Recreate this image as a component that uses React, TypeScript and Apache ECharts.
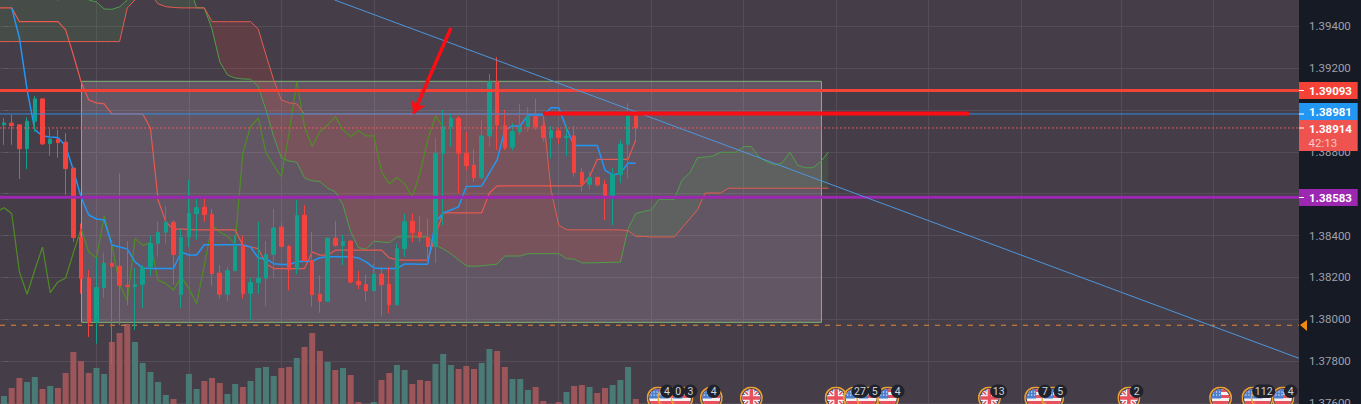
import React, { useEffect, useRef } from "react";
import * as echarts from "echarts";

// open, close, low, high per candle
const candles: number[][] = [
[1.38929,1.38938,1.38833,1.38962],[1.38937,1.38925,1.38833,1.38976],[1.38929,1.38815,1.38670,1.38931],[1.38815,1.38946,1.38718,1.38965],
[1.38946,1.39053,1.38896,1.39067],[1.39053,1.38838,1.38833,1.39056],[1.38839,1.38860,1.38780,1.38909],[1.38860,1.38844,1.38772,1.38905],
[1.38846,1.38720,1.38594,1.38889],[1.38722,1.38390,1.38369,1.38724],[1.38392,1.38194,1.38122,1.38457],[1.38197,1.37984,1.37915,1.38234],
[1.37987,1.38151,1.37883,1.38294],[1.38151,1.38267,1.38102,1.38317],[1.38267,1.38253,1.37787,1.38379],[1.38253,1.38162,1.37972,1.38698],
[1.38162,1.38156,1.38067,1.38373],[1.38156,1.38165,1.37949,1.38245],[1.38167,1.38245,1.38054,1.38258],[1.38250,1.38361,1.38207,1.38401],
[1.38363,1.38414,1.38298,1.38468],[1.38416,1.38463,1.38361,1.38541],[1.38463,1.38309,1.38165,1.38473],[1.38119,1.38390,1.38054,1.38430],
[1.38393,1.38505,1.38345,1.38666],[1.38505,1.38533,1.38380,1.38586],[1.38535,1.38500,1.38465,1.38586],[1.38502,1.38218,1.38159,1.38528],
[1.38220,1.38119,1.38098,1.38258],[1.38119,1.38232,1.38086,1.38250],[1.38232,1.38349,1.38230,1.38401],[1.38350,1.38122,1.38098,1.38401],
[1.38124,1.38175,1.37998,1.38197],[1.38175,1.38194,1.38122,1.38465],[1.38196,1.38310,1.38063,1.38373],[1.38310,1.38436,1.38194,1.38526],
[1.38440,1.38347,1.38344,1.38461],[1.38347,1.38237,1.38138,1.38355],[1.38239,1.38495,1.38216,1.38570],[1.38497,1.38280,1.38277,1.38545],
[1.38280,1.38117,1.38059,1.38417],[1.38119,1.38086,1.38031,1.38210],[1.38086,1.38387,1.38084,1.38390],[1.38387,1.38353,1.38345,1.38470],
[1.38353,1.38371,1.38258,1.38401],[1.38373,1.38178,1.38170,1.38376],[1.38181,1.38165,1.38143,1.38231],[1.38165,1.38136,1.38086,1.38213],
[1.38136,1.38215,1.38134,1.38265],[1.38215,1.38165,1.38015,1.38250],[1.38167,1.38069,1.38028,1.38250],[1.38069,1.38337,1.38067,1.38361],
[1.38337,1.38466,1.38298,1.38505],[1.38468,1.38414,1.38369,1.38505],[1.38416,1.38392,1.38369,1.38493],[1.38390,1.38347,1.38282,1.38481],
[1.38347,1.38793,1.38269,1.38865],[1.38793,1.38920,1.38450,1.39000],[1.38920,1.38960,1.38825,1.38984],[1.38960,1.38793,1.38602,1.38971],
[1.38793,1.38734,1.38713,1.38896],[1.38736,1.38677,1.38657,1.38814],[1.38677,1.38876,1.38666,1.38952],[1.38876,1.39135,1.38825,1.39172],
[1.39135,1.38928,1.38809,1.39252],[1.38925,1.38819,1.38809,1.39000],[1.38822,1.38896,1.38806,1.38937],[1.38896,1.38920,1.38881,1.39029],
[1.38920,1.38968,1.38896,1.39013],[1.38968,1.38920,1.38905,1.39053],[1.38924,1.38868,1.38849,1.38976],[1.38868,1.38901,1.38769,1.38924],
[1.38901,1.38868,1.38838,1.38913],[1.38868,1.38874,1.38780,1.38920],[1.38876,1.38700,1.38681,1.38924],[1.38702,1.38645,1.38610,1.38722],
[1.38645,1.38677,1.38621,1.38705],[1.38678,1.38642,1.38634,1.38681],[1.38645,1.38583,1.38474,1.38666],[1.38583,1.38691,1.38450,1.38723],
[1.38691,1.38836,1.38650,1.38857],[1.38836,1.38971,1.38674,1.39032],[1.38971,1.38914,1.38857,1.38976],
];

const volumes = [8,16,26,22,27,15,18,16,31,52,43,31,36,30,62,71,80,62,41,32,22,9,5,0,30,15,23,26,21,10,20,17,23,36,37,28,36,37,46,57,71,53,42,34,36,29,2,0,2,24,31,39,34,20,24,23,40,50,39,35,38,35,41,55,53,37,25,25,14,17,3,0,2,12,18,19,17,11,16,19,24,37,5];

// first value of this line belongs to bar 1
const tenkan = [
1.39488,1.39344,1.39096,1.38905,1.38876,1.38871,1.38869,1.38828,1.38713,
1.38584,1.38498,1.38479,1.38474,1.38355,1.38345,1.38336,1.38274,1.38245,1.38242,
1.38242,1.38242,1.38242,1.38321,1.38307,1.38307,1.38356,1.38356,1.38356,1.38356,
1.38356,1.38356,1.38345,1.38293,1.38289,1.38265,1.38261,1.38261,1.38274,1.38277,
1.38277,1.38294,1.38298,1.38298,1.38298,1.38298,1.38293,1.38274,1.38245,1.38242,
1.38242,1.38242,1.38264,1.38264,1.38263,1.38263,1.38465,1.38508,1.38522,1.38537,
1.38634,1.38635,1.38637,1.38699,1.38761,1.38905,1.38924,1.38924,1.38976,1.38976,
1.38976,1.39011,1.39011,1.38914,1.38830,1.38830,1.38830,1.38830,1.38713,1.38689,
1.38698,1.38745,1.38745];

// the first value of these four lines lies one bar before the first candle
const kijun = [1.39488,
1.39488,1.39488,1.39422,1.39422,1.39422,1.39422,1.39422,1.39422,1.39383,1.39263,
1.39135,1.39048,1.39034,1.39029,1.38981,1.38981,1.38981,1.38981,1.38981,1.38914,
1.38570,1.38465,1.38430,1.38430,1.38429,1.38427,1.38427,1.38427,1.38427,1.38427,
1.38427,1.38353,1.38345,1.38337,1.38265,1.38242,1.38242,1.38242,1.38242,1.38242,
1.38321,1.38306,1.38306,1.38330,1.38330,1.38330,1.38330,1.38330,1.38330,1.38330,
1.38293,1.38285,1.38282,1.38282,1.38282,1.38282,1.38403,1.38508,1.38508,1.38508,
1.38508,1.38508,1.38508,1.38603,1.38637,1.38637,1.38637,1.38637,1.38637,1.38637,
1.38637,1.38637,1.38637,1.38637,1.38637,1.38637,1.38681,1.38764,1.38764,1.38764,
1.38764,1.38764,1.38857];

const senkouA = [1.39540,
1.39540,1.39540,1.39540,1.39540,1.39540,1.39540,1.39540,1.39526,1.39536,1.39574,
1.39564,1.39526,1.39516,1.39483,1.39481,1.39493,1.39526,1.39574,1.39598,1.39598,
1.39598,1.39598,1.39598,1.39598,1.39598,1.39488,1.39488,1.39387,1.39231,1.39167,
1.39153,1.39148,1.39147,1.39112,1.39000,1.38873,1.38771,1.38756,1.38750,1.38675,
1.38661,1.38658,1.38626,1.38608,1.38546,1.38417,1.38342,1.38334,1.38373,1.38369,
1.38366,1.38393,1.38393,1.38393,1.38393,1.38393,1.38353,1.38336,1.38313,1.38283,
1.38255,1.38253,1.38255,1.38259,1.38263,1.38302,1.38302,1.38302,1.38313,1.38313,
1.38313,1.38313,1.38313,1.38289,1.38287,1.38269,1.38269,1.38270,1.38271,1.38272,
1.38272,1.38433,1.38505,1.38515,1.38522,1.38573,1.38573,1.38573,1.38666,1.38699,
1.38772,1.38775,1.38780,1.38798,1.38798,1.38798,1.38825,1.38825,1.38775,1.38753,
1.38737,1.38747,1.38798,1.38737,1.38724,1.38724,1.38753,1.38798];

const senkouB = [1.39327,
1.39327,1.39327,1.39327,1.39327,1.39327,1.39327,1.39327,1.39327,1.39327,1.39327,
1.39327,1.39327,1.39327,1.39327,1.39327,1.39327,1.39488,1.39526,1.39555,1.39555,
1.39507,1.39494,1.39490,1.39488,1.39488,1.39488,1.39488,1.39422,1.39422,1.39422,
1.39422,1.39422,1.39422,1.39387,1.39263,1.39144,1.39048,1.39034,1.39029,1.38981,
1.38981,1.38981,1.38981,1.38981,1.38981,1.38981,1.38981,1.38981,1.38981,1.38981,
1.38981,1.38981,1.38981,1.38981,1.38981,1.38981,1.38981,1.38981,1.38981,1.38981,
1.38981,1.38981,1.38981,1.38981,1.38981,1.38981,1.38981,1.38981,1.38981,1.38981,
1.38976,1.38618,1.38450,1.38428,1.38427,1.38427,1.38427,1.38427,1.38427,1.38427,
1.38427,1.38423,1.38396,1.38396,1.38393,1.38393,1.38393,1.38393,1.38436,1.38479,
1.38522,1.38603,1.38603,1.38603,1.38626,1.38626,1.38626,1.38626,1.38626,1.38626,
1.38626,1.38626,1.38626,1.38626,1.38626,1.38626,1.38626,1.38626];

const chikou = [1.38512,
1.38533,1.38505,1.38226,1.38119,1.38235,1.38345,1.38127,1.38178,1.38197,1.38317,
1.38433,1.38321,1.38293,1.38493,1.38355,1.38164,1.38092,1.38385,1.38353,1.38366,
1.38186,1.38170,1.38138,1.38202,1.38146,1.38074,1.38259,1.38449,1.38417,1.38396,
1.38361,1.38795,1.38920,1.38962,1.38795,1.38737,1.38681,1.38890,1.39135,1.38920,
1.38825,1.38896,1.38928,1.38968,1.38905,1.38873,1.38901,1.38876,1.38876,1.38705,
1.38647,1.38677,1.38647,1.38586,1.38699,1.38857,1.38971,1.38920];

const yTickMin = 1.374;
const yTickMax = 1.396;
const yTickStep = 0.002;
const verticalGridBars = [12, 24, 36, 48, 60, 72, 84, 96, 108, 120, 132, 145, 157];
const xMin = -0.52;
const xMax = 168.08;

const resistance = 1.39093;
const lastSwing = 1.38981;
const lastPrice = 1.38914;
const support = 1.38583;
const rangeLow = 1.37971;
const boxCorners = [10.06, 1.39137, 106.1, 1.37985];
const trendLine = [[42.9, 1.39526], [168.08, 1.37813]];
const arrowLine = [[58.01, 1.39392], [53.15, 1.38983]];
const drawnLevel = [[69.95, 1.38983], [125.24, 1.38983]];

const usEvents = [84.9, 86.3, 88.0, 91.8, 110.4, 112.1, 114.7, 133.9, 136.1, 157.9, 162.1, 163.3, 166.0];
const ukEvents = [97, 108, 127.9, 146];
const eventCounts: [number, string][] = [
  [86.05, "4"], [87.5, "0"], [89.1, "3"], [92.1, "4"], [111.1, "27"], [113.0, "5"], [116.0, "4"],
  [129.1, "13"], [135.1, "7"], [137.1, "5"], [147.0, "2"], [163.5, "112"], [167.0, "4"],
];

const priceTags = [
  { lines: ["1.39093"], y: 82, h: 17, bg: "#f44336", tick: 90.5 },
  { lines: ["1.38981"], y: 103, h: 17, bg: "#2196f3", tick: 114 },
  { lines: ["1.38914", "42:13"], y: 120, h: 31, bg: "#ef5350", tick: 128 },
  { lines: ["1.38583"], y: 189, h: 17, bg: "#9c27b0", tick: 197.5 },
];

const UP = "#12a08c";
const DOWN = "#f4433f";
const FONT = "Roboto, sans-serif";

const svgUri = (s: string) => "data:image/svg+xml;charset=utf-8," + encodeURIComponent(s);
const usFlag = svgUri(`<svg xmlns="http://www.w3.org/2000/svg" width="46" height="46" viewBox="0 0 46 46"><defs><clipPath id="c"><circle cx="23" cy="23" r="18"/></clipPath></defs><circle cx="23" cy="23" r="21.5" fill="none" stroke="#eda232" stroke-width="3"/><g clip-path="url(#c)"><rect width="46" height="46" fill="#f6f2f2"/><rect y="5" width="46" height="6" fill="#e8505b"/><rect y="17" width="46" height="6" fill="#e8505b"/><rect y="29" width="46" height="6" fill="#e8505b"/><rect y="41" width="46" height="6" fill="#e8505b"/><rect width="24" height="24" fill="#4a7fd0"/><g fill="#dfe8f7"><circle cx="9" cy="11" r="1.4"/><circle cx="15" cy="11" r="1.4"/><circle cx="21" cy="11" r="1.4"/><circle cx="9" cy="17" r="1.4"/><circle cx="15" cy="17" r="1.4"/><circle cx="21" cy="17" r="1.4"/></g></g></svg>`);
const ukFlag = svgUri(`<svg xmlns="http://www.w3.org/2000/svg" width="46" height="46" viewBox="0 0 46 46"><defs><clipPath id="c"><circle cx="23" cy="23" r="18"/></clipPath></defs><circle cx="23" cy="23" r="21.5" fill="none" stroke="#eda232" stroke-width="3"/><g clip-path="url(#c)"><rect width="46" height="46" fill="#5a77c4"/><path d="M0 0L46 46M46 0L0 46" stroke="#f6f2f2" stroke-width="8"/><path d="M0 0L46 46M46 0L0 46" stroke="#e8505b" stroke-width="3"/><path d="M23 0V46M0 23H46" stroke="#f6f2f2" stroke-width="12"/><path d="M23 0V46M0 23H46" stroke="#e8505b" stroke-width="7"/></g></svg>`);

const hline = (value: number, color: string, width: number, z: number, type: any = "solid") => ({
  type: "line",
  xAxisIndex: 0,
  yAxisIndex: 0,
  data: [[xMin, value], [xMax, value]],
  symbol: "none",
  silent: true,
  z,
  lineStyle: { color, width, type },
});

const indicator = (values: number[], start: number, color: string, width: number, z: number) => ({
  type: "line",
  xAxisIndex: 0,
  yAxisIndex: 0,
  data: values.map((v, i) => [i + start, v]),
  symbol: "none",
  silent: true,
  z,
  lineStyle: { color, width },
});

// contiguous runs of the cloud having the same colour; array position 0 is bar -1
const cloudRuns: number[][] = [];
{
  let start = 0;
  for (let i = 1; i < senkouA.length; i++) {
    const flip = senkouA[i] >= senkouB[i] !== senkouA[start] >= senkouB[start];
    if (flip || i === senkouA.length - 1) {
      cloudRuns.push([start, i]);
      start = i;
    }
  }
}

export default function App() {
  const ref = useRef<HTMLDivElement>(null);

  useEffect(() => {
    if (!ref.current) return;
    const chart = echarts.init(ref.current, undefined, { renderer: "svg" });
    const option: any = {
      animation: false,
      backgroundColor: "#161a25",
      textStyle: { fontFamily: FONT },
      grid: [
        { left: 0, width: 1299, top: -15.54, height: 460.24, show: true, backgroundColor: "#453d48", borderWidth: 0, outerBoundsMode: "none" },
        { left: 0, width: 1299, top: 0, height: 404, show: false, outerBoundsMode: "none" },
      ],
      xAxis: [
        {
          type: "value", gridIndex: 0, min: xMin, max: xMax,
          axisLine: { show: false }, axisLabel: { show: false },
          axisTick: { show: false, customValues: verticalGridBars },
          splitLine: { show: true, lineStyle: { color: "#544d57", width: 1 } },
        },
        { type: "value", gridIndex: 1, min: xMin, max: xMax, show: false, splitLine: { show: false } },
      ],
      yAxis: [
        {
          type: "value", gridIndex: 0, position: "right", min: yTickMin, max: yTickMax, interval: yTickStep,
          axisLine: { show: false },
          axisTick: { show: true, length: 4, lineStyle: { color: "#5b5f6a" } },
          axisLabel: {
            margin: 10, color: "#9ea1a9", fontSize: 11.5, fontFamily: FONT,
            showMinLabel: false, showMaxLabel: false,
            formatter: (v: number) => v.toFixed(5),
          },
          splitLine: { show: true, lineStyle: { color: "#544d57", width: 1 } },
        },
        { type: "value", gridIndex: 1, min: 0, max: 404, show: false, splitLine: { show: false } },
      ],
      series: [
        {
          type: "bar", xAxisIndex: 1, yAxisIndex: 1, barWidth: 6, z: 1, silent: true,
          data: volumes.map((v, i) => ({
            value: [i, v],
            itemStyle: { color: candles[i][1] >= candles[i][0] ? "#4a7a76" : "#9c5558" },
          })),
        },
        {
          type: "custom", xAxisIndex: 0, yAxisIndex: 0, z: 2, silent: true, clip: false,
          data: [boxCorners],
          renderItem: (_: any, api: any) => {
            const a = api.coord([api.value(0), api.value(1)]);
            const b = api.coord([api.value(2), api.value(3)]);
            return {
              type: "rect",
              shape: { x: a[0], y: a[1], width: b[0] - a[0], height: b[1] - a[1] },
              style: { fill: "rgba(255,225,255,0.155)", stroke: "#7fb572", lineWidth: 1 },
            };
          },
        },
        {
          type: "custom", xAxisIndex: 0, yAxisIndex: 0, z: 3, silent: true,
          data: cloudRuns,
          renderItem: (_: any, api: any) => {
            const s = api.value(0), e = api.value(1);
            const pts: number[][] = [];
            for (let i = s; i <= e; i++) pts.push(api.coord([i - 1, senkouA[i]]));
            for (let i = e; i >= s; i--) pts.push(api.coord([i - 1, senkouB[i]]));
            const mid = Math.min(s + 1, e);
            return {
              type: "polygon",
              shape: { points: pts },
              style: { fill: senkouA[mid] >= senkouB[mid] ? "rgba(76,175,80,0.13)" : "rgba(244,67,54,0.16)" },
            };
          },
        },
        indicator(senkouA, -1, "#4f9e48", 1, 4),
        indicator(senkouB, -1, "#e25c50", 1, 4),
        indicator(chikou, -1, "#4f8d24", 1.2, 5),
        indicator(kijun, -1, "#e8594f", 1.2, 5),
        indicator(tenkan, 1, "#2196f3", 1.5, 5),
        hline(rangeLow, "#e58a32", 1, 6, [5, 6]),
        {
          type: "candlestick", xAxisIndex: 0, yAxisIndex: 0, z: 7, silent: true, barWidth: 4,
          encode: { x: 0, y: [1, 2, 3, 4] },
          data: candles.map((c, i) => [i, ...c]),
          itemStyle: { color: UP, color0: DOWN, borderColor: UP, borderColor0: DOWN, borderWidth: 1 },
        },
        hline(resistance, "#f44336", 3, 8),
        hline(lastSwing, "#2f8fe6", 1, 8),
        hline(lastPrice, "#ef5350", 1, 8, [2, 2]),
        hline(support, "#9c27b0", 3, 8),
        {
          type: "line", xAxisIndex: 0, yAxisIndex: 0, data: trendLine, symbol: "none", silent: true, z: 8,
          lineStyle: { color: "#4c97dc", width: 1 },
        },
        {
          type: "line", xAxisIndex: 0, yAxisIndex: 0, data: drawnLevel, symbol: "none", silent: true, z: 9,
          lineStyle: { color: "#fb0d14", width: 4 },
          markLine: {
            silent: true, z: 9, symbol: ["none", "arrow"], symbolSize: 12,
            lineStyle: { color: "#fb0d14", width: 3.5, type: "solid" },
            label: { show: false },
            data: [[{ coord: arrowLine[0] }, { coord: arrowLine[1] }]],
          },
        },
        {
          type: "custom", xAxisIndex: 0, yAxisIndex: 0, z: 10, silent: true, clip: false,
          data: [...usEvents.map((x) => [x, 0]), ...ukEvents.map((x) => [x, 1])].sort((a, b) => a[0] - b[0]),
          renderItem: (_: any, api: any) => {
            const x = api.coord([api.value(0), yTickMin])[0];
            return {
              type: "image",
              style: { image: api.value(1) === 0 ? usFlag : ukFlag, x: x - 11.5, y: 386.5, width: 23, height: 23 },
            };
          },
        },
        {
          type: "custom", xAxisIndex: 0, yAxisIndex: 0, z: 11, silent: true, clip: false,
          data: eventCounts.map((e) => [e[0], yTickMin]),
          renderItem: (params: any, api: any) => {
            const x = api.coord([api.value(0), yTickMin])[0];
            const label = eventCounts[params.dataIndex][1];
            const w = Math.max(13.6, label.length * 6 + 5);
            return {
              type: "group",
              children: [
                { type: "rect", shape: { x: x - w / 2, y: 384.5, width: w, height: 13.6, r: 6.8 }, style: { fill: "#20232d" } },
                {
                  type: "text",
                  style: {
                    x, y: 391.3, text: label, fill: "#cfd2d6",
                    font: `10.5px ${FONT}`, align: "center", verticalAlign: "middle",
                  },
                },
              ],
            };
          },
        },
      ],
      graphic: [
        ...priceTags.flatMap((t) => [
          { type: "rect", z: 100, silent: true, shape: { x: 1299, y: t.y, width: 58.7, height: t.h }, style: { fill: t.bg } },
          { type: "rect", z: 101, silent: true, shape: { x: 1299, y: t.tick - 0.5, width: 5, height: 1 }, style: { fill: "#ffffff" } },
          {
            type: "text", z: 101, silent: true, x: 1309, y: t.y + 8.5,
            style: { text: t.lines[0], fill: "#ffffff", font: `bold 11.5px ${FONT}`, verticalAlign: "middle" },
          },
          ...(t.lines[1]
            ? [{
                type: "text", z: 101, silent: true, x: 1308.5, y: t.y + 23,
                style: { text: t.lines[1], fill: "#f9c5c3", font: `11.5px ${FONT}`, verticalAlign: "middle" },
              }]
            : []),
        ]),
        {
          type: "polygon", z: 101, silent: true,
          shape: { points: [[1300, 325], [1307, 320], [1307, 331]] },
          style: { fill: "#f08a10" },
        },
      ],
    };
    chart.setOption(option);
    return () => chart.dispose();
  }, []);

  return (
    <div
      ref={ref}
      style={{ position: "absolute", left: 0, top: 0, width: 1361, height: 404, overflow: "hidden" }}
    />
  );
}
